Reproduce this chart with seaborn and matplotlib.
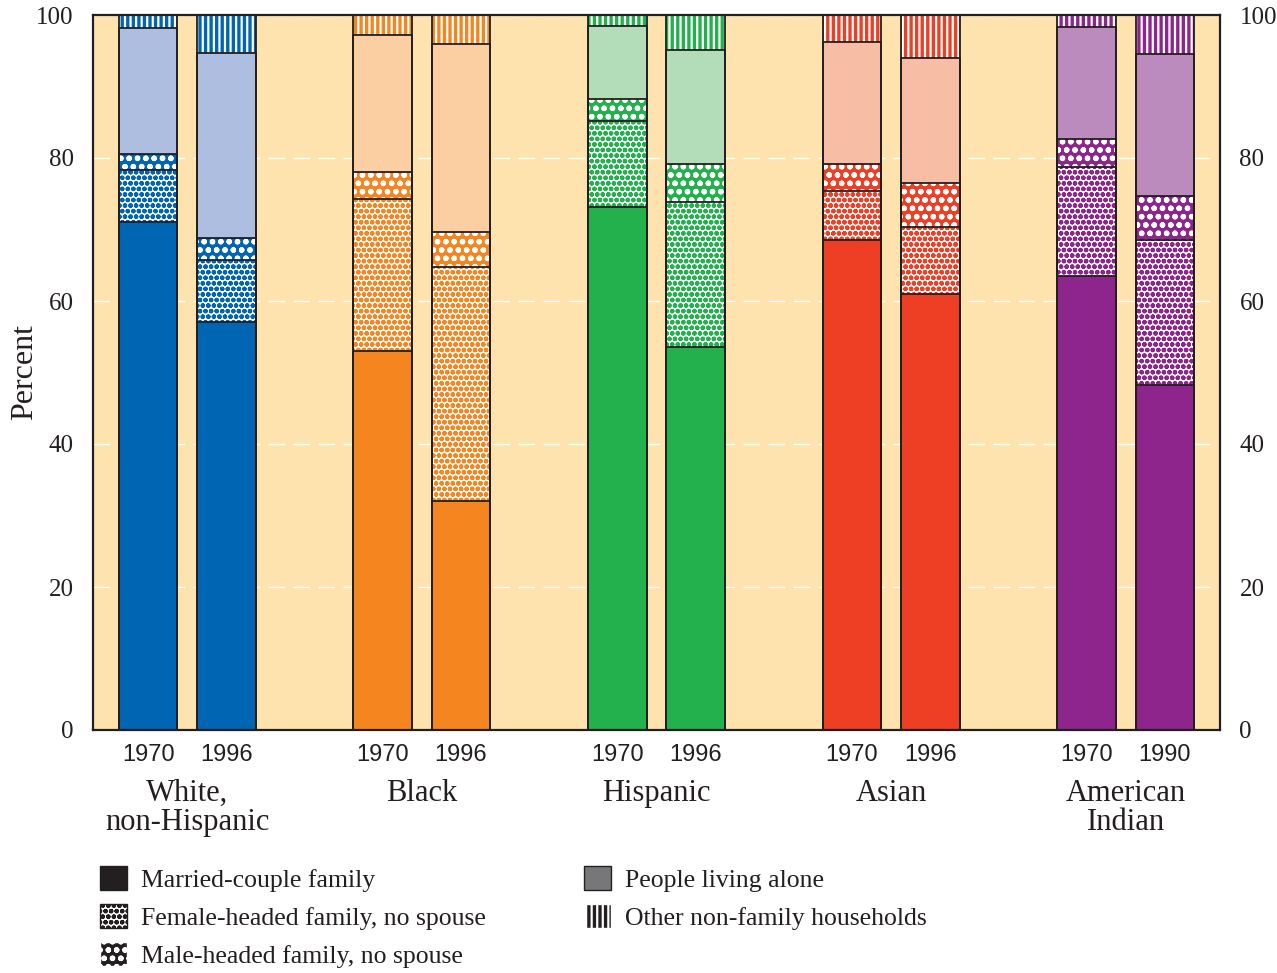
import matplotlib
matplotlib.use("Agg")
import matplotlib.pyplot as plt
import seaborn as sns
import pandas as pd
from matplotlib.patches import Patch, Rectangle

# household composition, percent of households
bars = ['White70', 'White96', 'Black70', 'Black96', 'Hisp70', 'Hisp96',
        'Asian70', 'Asian96', 'Ind70', 'Ind90']
years = ['1970', '1996', '1970', '1996', '1970', '1996', '1970', '1996', '1970', '1990']
groups = ['White,\nnon-Hispanic', 'Black', 'Hispanic', 'Asian', 'American\nIndian']
married = [71.0, 57.0, 53.0, 32.0, 73.2, 53.6, 68.5, 61.0, 63.5, 48.2]
female = [7.3, 8.7, 21.2, 32.7, 12.0, 20.2, 6.9, 9.3, 15.2, 20.3]
male = [2.2, 3.1, 3.9, 4.9, 3.1, 5.4, 3.7, 6.2, 3.9, 6.2]
alone = [17.7, 25.9, 19.1, 26.4, 10.2, 15.9, 17.1, 17.5, 15.7, 19.8]
other = [1.8, 5.3, 2.8, 4.0, 1.5, 4.9, 3.8, 6.0, 1.7, 5.5]

dark_cols = ['#0066B3', '#F5861F', '#22B14C', '#EE3E24', '#8E258D']
light_cols = ['#AEBEE0', '#FCCFA3', '#B3DDB9', '#F8BDA5', '#BC8BBD']

# spacer categories make the gaps between groups
order = ['White70', 'White96', 's1', 'Black70', 'Black96', 's2', 'Hisp70', 'Hisp96', 's3',
         'Asian70', 'Asian96', 's4', 'Ind70', 'Ind90']

df = pd.DataFrame({'bar': bars, 'married': married, 'female': female, 'male': male,
                   'alone': alone, 'other': other})
df['c1'] = df['married']
df['c2'] = df['c1'] + df['female']
df['c3'] = df['c2'] + df['male']
df['c4'] = df['c3'] + df['alone']
df['c5'] = df['c4'] + df['other']

sns.set_theme(style='white')
plt.rcParams['font.family'] = ['Liberation Serif', 'DejaVu Serif']
plt.rcParams['hatch.linewidth'] = 1.6

bg = '#FEE3AE'
ink = '#231F20'

fig = plt.figure(figsize=(12.77, 9.73), dpi=100)
ax = fig.add_axes([93 / 1277, 1 - 730 / 973, (1220 - 93) / 1277, (730 - 15) / 973])
ax.set_facecolor(bg)

# stacked segments drawn as cumulative bars, top layer first
layers = [('c5', 'other'), ('c4', 'alone'), ('c3', 'male'), ('c2', 'female'), ('c1', 'married')]


def style_for(kind, gi):
    d, l = dark_cols[gi], light_cols[gi]
    if kind == 'married':
        return d, d, None
    if kind == 'female':
        return 'white', d, 'ooo'
    if kind == 'male':
        return d, 'white', 'oo'
    if kind == 'alone':
        return l, l, None
    return d, 'white', '|||'


for col, kind in layers:
    n0 = len(ax.patches)
    sns.barplot(data=df, x='bar', y=col, order=order, color='white', width=0.75,
                errorbar=None, saturation=1, ax=ax)
    for p in ax.patches[n0:]:
        pos = int(round(p.get_x() + p.get_width() / 2))
        name = order[pos]
        if name not in bars:
            continue
        gi = bars.index(name) // 2
        face, hc, hatch = style_for(kind, gi)
        p.set_facecolor(face)
        p.set_edgecolor(hc)
        p.set_linewidth(0)
        p.set_hatch(hatch)

# dark outlines around every segment
for p in list(ax.patches):
    if p.get_height() > 0:
        ax.add_patch(Rectangle(p.get_xy(), p.get_width(), p.get_height(), fill=False,
                               edgecolor=ink, linewidth=1.3, zorder=3))

ax.set_xlim(-0.705, 13.705)
ax.set_ylim(0, 100)
ax.set_yticks([0, 20, 40, 60, 80, 100])
ax.set_yticklabels(['0', '20', '40', '60', '80', '100'])
ax.yaxis.grid(True, color='white', linestyle=(0, (12, 6)), linewidth=1.0)
ax.set_axisbelow(True)
ax.tick_params(axis='y', which='both', length=0, labelsize=18, labelright=True, pad=14,
               labelcolor=ink)
ax.set_ylabel('')
ax.set_xlabel('')
fig.text(25 / 1277, 1 - 372 / 973, 'Percent', rotation=90, ha='center', va='center',
         fontsize=23, color=ink)

positions = [order.index(b) for b in bars]
ax.set_xticks(positions)
ax.set_xticklabels(years, fontfamily='Liberation Sans', fontsize=17, color=ink)
ax.tick_params(axis='x', length=0, pad=10)

for gi, g in enumerate(groups):
    xc = (positions[2 * gi] + positions[2 * gi + 1]) / 2
    ax.text(xc, -0.068, g, transform=ax.get_xaxis_transform(), ha='center', va='top',
            fontsize=22, color=ink, linespacing=1.02)

for s in ax.spines.values():
    s.set_color(ink)
    s.set_linewidth(1.6)
    s.set_visible(True)

leg_kw = dict(frameon=False, fontsize=18.5, handlelength=1.05, handleheight=1.05,
              handletextpad=0.55, labelspacing=0.48, borderpad=0, borderaxespad=0,
              labelcolor=ink)
h1 = [Patch(facecolor=ink, edgecolor=ink),
      Patch(facecolor='white', edgecolor=ink, hatch='ooo'),
      Patch(facecolor=ink, edgecolor='white', hatch='oo')]
fig.legend(h1, ['Married-couple family', 'Female-headed family, no spouse',
                'Male-headed family, no spouse'],
           loc='upper left', bbox_to_anchor=(100 / 1277, 1 - 866 / 973), **leg_kw)
h2 = [Patch(facecolor='#77777A', edgecolor=ink),
      Patch(facecolor=ink, edgecolor='white', hatch='|||')]
fig.legend(h2, ['People living alone', 'Other non-family households'],
           loc='upper left', bbox_to_anchor=(584 / 1277, 1 - 866 / 973), **leg_kw)

fig.savefig('out.png', dpi=100, facecolor='white')
